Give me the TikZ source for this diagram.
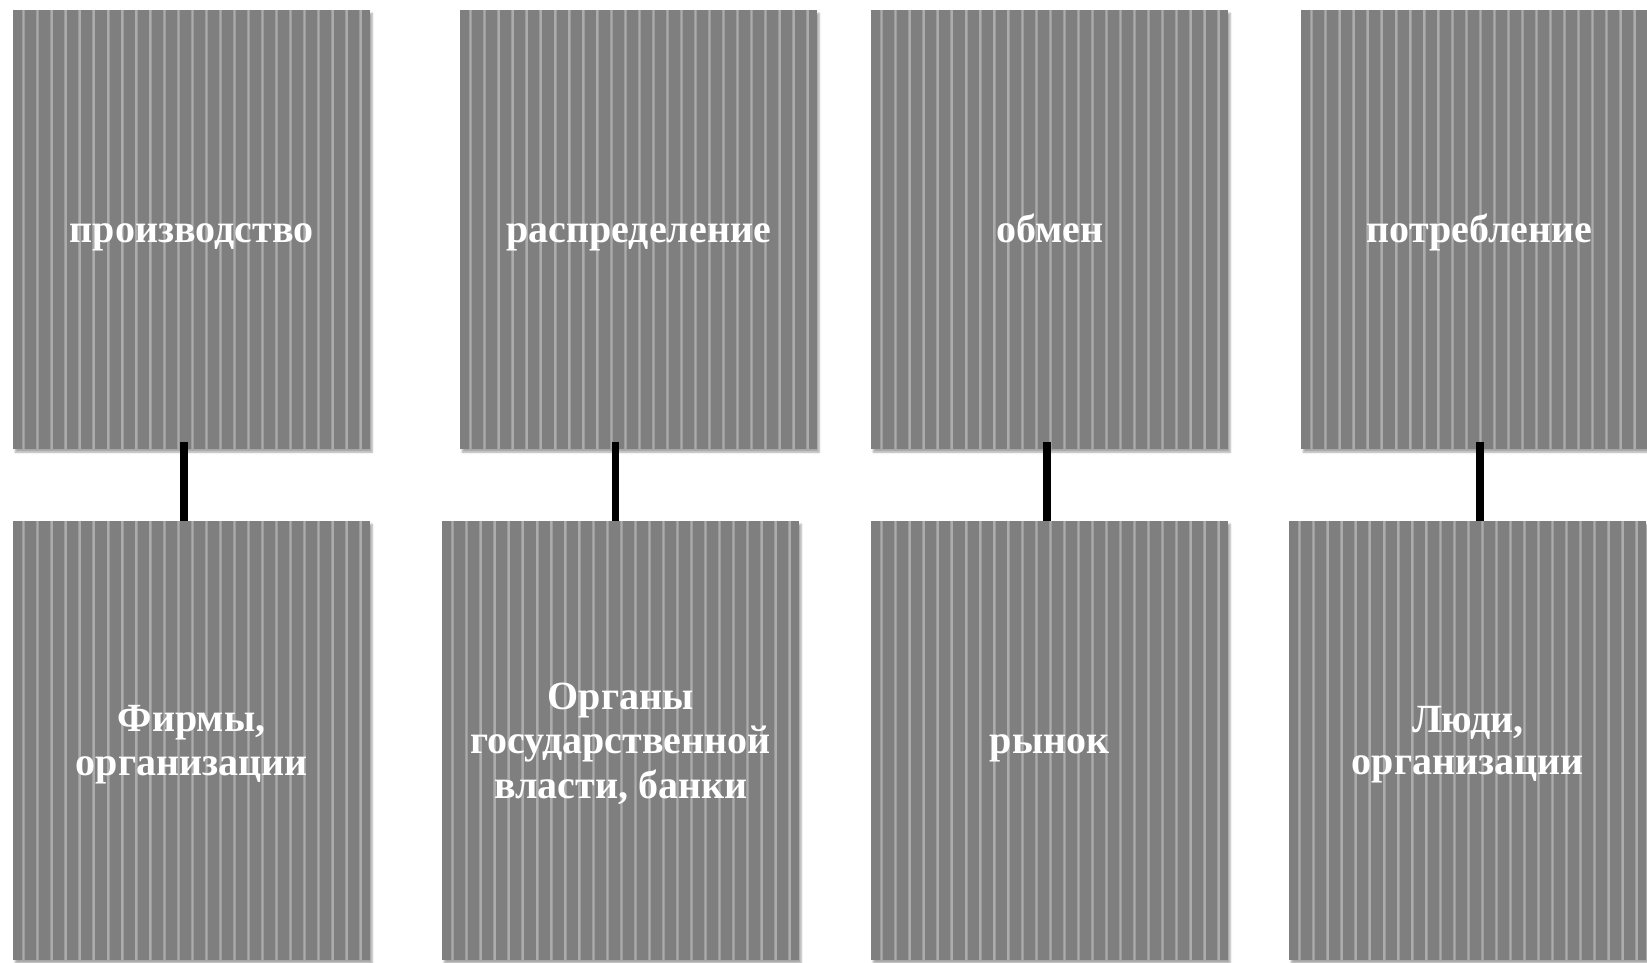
\documentclass[tikz,border=0pt]{standalone}
\usepackage{fontspec}
\setmainfont{Liberation Serif}
\usetikzlibrary{shadows.blur}
\definecolor{boxgray}{HTML}{7F7F7F}
\definecolor{stripeA}{HTML}{9C9C9C}
\definecolor{stripeB}{HTML}{ACACAC}
\newcommand{\lnstrut}{\rule[-8pt]{0pt}{42.5pt}}
\tikzset{
  stripebox/.style={rectangle, anchor=north west, minimum width=357pt, minimum height=439pt,
    inner sep=0pt, fill=boxgray, text=white, align=center,
    font=\bfseries\fontsize{40}{42.5}\selectfont,
    blur shadow={shadow xshift=2pt, shadow yshift=-3pt, shadow blur steps=6, shadow opacity=35},
    path picture={
      \foreach \i in {0,...,25} {
        \fill[stripeA] ([xshift=9pt+\i*14.05pt]path picture bounding box.south west) rectangle ++(3pt,450pt);
        \fill[stripeB] ([xshift=9.8pt+\i*14.05pt]path picture bounding box.south west) rectangle ++(1.4pt,450pt);
      }
    }},
  link/.style={draw=black, line width=7.5pt}
}
\begin{document}
\begin{tikzpicture}[x=1pt,y=1pt]
\useasboundingbox (0,0) rectangle (1647,-963);
\node[stripebox] (t1) at (13,-10) {\lnstrut производство};
\node[stripebox] (t2) at (460,-10) {\lnstrut распределение};
\node[stripebox] (t3) at (871,-10) {\lnstrut обмен};
\node[stripebox] (t4) at (1301,-10) {\lnstrut потребление};
\node[stripebox] (b1) at (13,-521) {\lnstrut Фирмы,\\\lnstrut организации};
\node[stripebox] (b2) at (442,-521) {\lnstrut Органы\\\lnstrut государственной\\\lnstrut власти, банки};
\node[stripebox] (b3) at (871,-521) {\lnstrut рынок};
\node[stripebox] (b4) at (1289,-521) {\lnstrut Люди,\\\lnstrut организации};
\coordinate (c1) at (184,0);
\coordinate (c2) at (615.5,0);
\coordinate (c3) at (1047,0);
\coordinate (c4) at (1480,0);
\foreach \k in {1,2,3,4} {
  \draw[link] ([yshift=7pt]t\k.south -| c\k) -- (b\k.north -| c\k);
}
\end{tikzpicture}
\end{document}
